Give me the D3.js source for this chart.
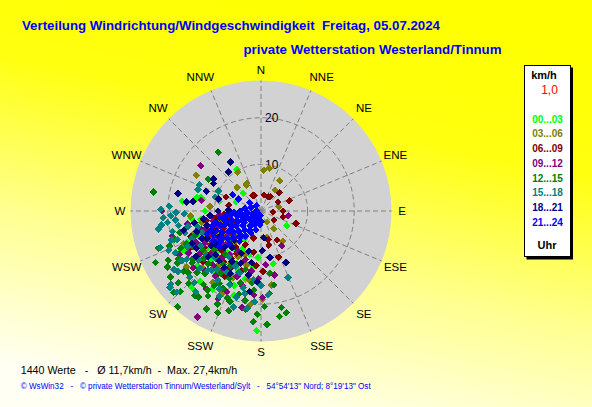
<!DOCTYPE html>
<html>
<head>
<meta charset="utf-8">
<script src="https://cdn.jsdelivr.net/npm/d3@7"></script>
<style>
  body { margin: 0; background: #fff; }
  svg { display: block; font-family: "Liberation Sans", Arial, sans-serif; }
</style>
</head>
<body>
<svg id="chart" width="592" height="407"></svg>
<script>
// wind direction (deg) / speed (km/h), one list per 3-hour slot
const h00_03 = [[330,10.3],[277,17],[281,12.9],[283,13.2],[290,5.7],[315,5.4],[282,14],[283,9.2],[222,22.2],[188,12.1],
  [242,18.4],[247,17.2],[221,20],[167,11.6],[182,25.7],[262,13],[255,9],[240,11],[230,8],[215,10],[205,12.5],[225,15],
  [238,6],[250,12],[210,7],[200,17],[270,12],[195,9.5],[120,6.4],[235,14],[228,11.5],[244,8.5],[218,16.5],
  [236,9.5],[248,14.5],[227,13],[214,15],[252,10.5],[206,9],[233,16.5],[243,19.5],[219,11.5],[258,12.5],[229,18],
  [201,13.5],[264,15],[240,7.5],[223,9.8],[193,15],[208,16],[198,19],[184,10],[212,19.8]];
const h03_06 = [[4,8.8],[11,9.3],[32,7.6],[34,5.4],[330,6.4],[314,7.1],[329,9.7],[299,15.9],[77,3.9],[144,4.7],
  [144,8],[167,5.7],[315,7.2],[333,6.7],[151,2.7],[266,15.2],[179,19],[250,11],[240,9],[230,12],[220,9],[210,13],
  [260,10],[235,15],[200,10],[245,13.5],[275,11],[190,15],[226,17.5],[212,6.5],
  [243,10.5],[231,9.5],[218,14.5],[252,15],[237,12.5],[224,13.5],[207,11],[259,13],[247,18],[214,18.5],[233,20],
  [228,7],[256,9],[203,15.5],[195,12],[205,19.5],[186,20],[215,11.5],[172,16]];
const h06_09 = [[336,3.7],[33,3.6],[62,4.1],[70,6.4],[90,4.7],[125,3.4],[105,4.9],[11,3.5],[95,2.6],[167,7.5],
  [185,11.8],[151,7.1],[159,10.6],[292,8.1],[27,3.4],[333,3.8],[166,6.4],[255,7],[245,9],[235,10],[225,12],[215,9.5],
  [205,8],[265,8],[240,12.5],[230,14],[220,7],[250,16],[260,12],[280,7],[195,6],[45,5.5],[110,8],[238,7.5],[212,12],
  [248,11],[237,14.5],[226,9],[216,13.5],[253,13.5],[232,12],[243,17],[221,15.5],[208,14],[261,10],[229,16.5],
  [210,10.5],[247,6],[234,8],[198,13.5],[203,17],[190,9],[209,16],[178,13]];
const h09_12 = [[307,16.2],[270,21.2],[254,19.8],[242,19.9],[211,26.5],[149,8.7],[185,18],[179,18.6],[191,21.1],
  [168,14],[175,11.6],[100,5.9],[260,16],[250,10],[240,14],[230,11],[220,13],[210,10],[225,8],[245,7],[235,16],
  [215,17],[200,15],[265,9],[280,13],[255,14],[198,11],[230,19],[247,12],[222,15.5],
  [238,11],[229,14],[252,12.5],[216,11.5],[244,15.5],[233,9],[223,17.5],[258,10.5],[207,13],[240,18],[213,15],
  [226,10.5],[249,8.5],[236,13],[194,16.5],[203,18.8],[189,13],[206,21],[182,14.5],[215,20.5]];
const h12_15 = [[244,25.2],[239,23.4],[227,25.6],[221,27.2],[216,22.8],[209,24.1],[203,23.7],[199,20.5],[189,21.4],
  [184,23.8],[177,24.4],[168,21.2],[166,22.5],[170,16.1],[174,17.8],[182,22.2],[230,20.5],[229,23.5],[238,21.1],
  [233,18.5],[280,23.4],[324,15.6],[301,13.2],[250,23.4],[212,19],[205,22],[195,18.5],[225,22],[170,23],
  [215,14],[225,16],[235,18],[205,16],[245,19],[220,12],[230,13],[240,12],[250,15],[210,18],[200,14],[255,18],
  [232,21],[218,20],[195,13],[185,17],[222,18],[242,16.5],[212,21.5],
  [236,15],[246,17.5],[226,19],[213,16],[240,20.5],[223,14],[249,21],[206,18.5],[230,16],[218,23],[234,24],
  [242,22.5],[201,20],[252,19.5],[214,20.5],[225,24.5],
  [196,16],[204,12.5],[190,19.5],[209,13.5],[187,15.5],[198,22.5],[178,20.5],[172,13.5]];
const h15_18 = [[273,19.7],[269,18.2],[266,21],[263,20.2],[252,20.2],[251,19],[244,17.6],[238,20],[231,24.9],
  [226,25.1],[289,14.3],[293,14.4],[295,10.1],[287,10.3],[267,19.4],[264,18.5],[262,21.5],[260,22.3],[257,19.5],
  [230,25.5],[247,21.5],[227,20.9],[219,22.3],[206,20.4],[196,21.4],[193,16.9],[203,17.2],[186,14.8],[175,18],
  [158,15.4],[188,21],[217,15.7],[222,17.1],[235,12],[225,14],[215,12],[245,11],[228,9],[240,15],[210,15],
  [250,13.5],[258,16],[232,17],[220,10],[236,22.5],[254,17],
  [242,13],[231,15],[248,16],[220,16.5],[256,14],[237,19],[227,18],[212,17.5],[244,20.5],[234,22],[260,18],
  [250,23],[223,21],[208,19],[268,16.5],[271,21.5],[199,14],[191,18],[205,13],[184,19.5],[210,12.5],[196,19.2],[180,16]];
const h18_21 = [[328,12.4],[320,10.9],[304,12.3],[300,11.8],[282,18.2],[290,12.5],[277,16.1],[278,14.7],[256,17.1],
  [245,16.3],[169,10.2],[154,12.3],[174,5.8],[191,14],[183,15.2],[190,11.3],[270,9.2],[215,8],[225,11],[235,13],
  [245,14],[255,12],[265,11],[220,14],[240,16],[230,5],[250,8],[205,10],[210,12.5],[260,14.5],[272,7],[286,9.5],
  [233,12],[243,13],[226,13.5],[252,14.5],[218,10],[238,10.5],[248,11.5],[229,15],[257,10],[213,14.5],[235,17],
  [262,12.5],[222,8.5],[197,9],[206,15],[188,17.5],[201,12],[178,8.5]];
const h21_24 = [[190,1],[230,1.2],[270,1],[320,1.5],[210,2],[250,2],[180,2.2],[290,2.3],[185,3],[205,3.2],[225,3],
  [245,3.3],[265,3.1],[280,3.5],[195,4.2],[215,4],[235,4.3],[255,4.1],[270,4.5],[205,5.2],[220,5.4],[232,5],
  [245,5.5],[258,5.2],[268,5.8],[212,6.3],[228,6.5],[240,6.2],[252,6.6],[263,6.4],[220,7.2],[232,7.5],[243,7.1],
  [254,7.6],[262,7.4],[226,8.4],[238,8.2],[249,8.6],[258,8.3],[230,9.3],[241,9.5],[251,9.2],[236,10.3],[246,10.5],
  [256,9.9],[242,11.4],[233,10.8],[249,11.6],[300,7],[298,5.5],[306,3],
  [215,8],[224,9.8],[247,12.5],[238,12],[253,10.8],[229,11.8],[261,9],[218,6.8],[210,4.8],[244,4.5],[260,3],
  [236,2.5],[222,2.4],[200,2.5],[250,1.2]];

const slots = [h00_03, h03_06, h06_09, h09_12, h12_15, h15_18, h18_21, h21_24];
const slotLabels = ["00...03", "03...06", "06...09", "09...12", "12...15", "15...18", "18...21", "21...24"];
const slotColors = ["#00ff00", "#808000", "#800000", "#800080", "#008000", "#008080", "#000080", "#0000ff"];
const dirLabels = ["N", "NNE", "NE", "ENE", "E", "ESE", "SE", "SSE", "S", "SSW", "SW", "WSW", "W", "WNW", "NW", "NNW"];
const ringTicks = [10, 20];
const speedMax = 28;

const titleText = "Verteilung Windrichtung/Windgeschwindigkeit  Freitag, 05.07.2024";
const subTitleText = "private Wetterstation Westerland/Tinnum";
const statsText = "1440 Werte   -   \u00d8 11,7km/h  -  Max. 27,4km/h";
const creditText = "\u00a9 WsWin32   -   \u00a9 private Wetterstation Tinnum/Westerland/Sylt   -   54\u00b054'13\" Nord; 8\u00b019'13\" Ost";

const svg = d3.select("#chart");
const cx = 261, cy = 211, radius = 130.5;

const r = d3.scaleLinear().domain([0, speedMax]).range([0, radius]);
const ang = d3.scaleLinear().domain([0, 360]).range([0, 2 * Math.PI]);
const px = (d, s) => cx + r(s) * Math.sin(ang(d));
const py = (d, s) => cy - r(s) * Math.cos(ang(d));

// background
const defs = svg.append("defs");
const grad = defs.append("linearGradient").attr("id", "bg")
  .attr("x1", "65%").attr("y1", "0%").attr("x2", "35%").attr("y2", "100%");
grad.append("stop").attr("offset", "0%").attr("stop-color", "#ffff00");
grad.append("stop").attr("offset", "30%").attr("stop-color", "#ffff10");
grad.append("stop").attr("offset", "65%").attr("stop-color", "#ffff90");
grad.append("stop").attr("offset", "100%").attr("stop-color", "#fffff4");
svg.append("rect").attr("width", 592).attr("height", 407).attr("fill", "url(#bg)");

// titles
svg.append("text").attr("x", 22).attr("y", 29.5)
  .attr("font-size", 13.5).attr("font-weight", "bold").attr("fill", "#0000ff")
  .attr("textLength", 418).attr("lengthAdjust", "spacingAndGlyphs")
  .style("white-space", "pre").text(titleText);
svg.append("text").attr("x", 243.5).attr("y", 53.5)
  .attr("font-size", 13.5).attr("font-weight", "bold").attr("fill", "#0000ff")
  .attr("textLength", 258).attr("lengthAdjust", "spacingAndGlyphs")
  .text(subTitleText);

// polar disc
svg.append("circle").attr("cx", cx).attr("cy", cy).attr("r", radius).attr("fill", "#d2d2d2");

const grid = svg.append("g").attr("stroke", "#808080").attr("stroke-dasharray", "5,3").attr("fill", "none");
grid.selectAll("circle").data(ringTicks).join("circle")
  .attr("cx", cx).attr("cy", cy).attr("r", (d) => r(d));
grid.selectAll("line").data(dirLabels).join("line")
  .attr("x1", cx).attr("y1", cy)
  .attr("x2", (d, i) => px(i * 22.5, speedMax))
  .attr("y2", (d, i) => py(i * 22.5, speedMax));

svg.selectAll(".ring-label").data(ringTicks).join("text")
  .attr("class", "ring-label")
  .attr("x", cx + 4).attr("y", (d) => cy - r(d))
  .attr("dy", "0.36em").attr("font-size", 12).attr("fill", "#000")
  .text((d) => d);

// direction labels
svg.selectAll(".dir-label").data(dirLabels).join("text")
  .attr("class", "dir-label")
  .attr("x", (d, i) => {
    const a = i * 22.5;
    const cardinal = a % 90 === 0;
    const rr = cardinal ? 141 : 145.5;
    const s = Math.sin(ang(a));
    const nudge = !cardinal && Math.abs(Math.cos(ang(a))) > 0.9 ? 5 * Math.sign(s) : 0;
    return cx + rr * s + nudge;
  })
  .attr("y", (d, i) => {
    const a = i * 22.5;
    const rr = a % 90 === 0 ? 141 : 145.5;
    return cy - rr * Math.cos(ang(a));
  })
  .attr("text-anchor", "middle").attr("dy", "0.36em")
  .attr("font-size", 11.5).attr("fill", "#000")
  .text((d) => d);

// points
const diamond = "M0,-3.8L3.8,0L0,3.8L-3.8,0Z";
slots.forEach((pts, k) => {
  svg.append("g").attr("fill", slotColors[k]).attr("shape-rendering", "crispEdges")
    .selectAll("path").data(pts).join("path")
    .attr("d", diamond)
    .attr("transform", (d) => `translate(${px(d[0], d[1])},${py(d[0], d[1])})`);
});

// legend
const lg = svg.append("g");
lg.append("rect").attr("x", 526.5).attr("y", 67.5).attr("width", 46.5).attr("height", 192).attr("fill", "#000");
lg.append("rect").attr("x", 524.5).attr("y", 65.5).attr("width", 46).attr("height", 191)
  .attr("fill", "#fff").attr("stroke", "#000");
lg.append("text").attr("x", 544).attr("y", 79).attr("text-anchor", "middle")
  .attr("font-size", 11).attr("font-weight", "bold").text("km/h");
lg.append("text").attr("x", 549.5).attr("y", 94).attr("text-anchor", "middle")
  .attr("font-size", 12).attr("fill", "#ff0000").text("1,0");
lg.selectAll(".slot").data(slotLabels).join("text")
  .attr("class", "slot")
  .attr("x", 547.5).attr("y", (d, i) => 122.5 + i * 14.75)
  .attr("text-anchor", "middle").attr("font-size", 10).attr("font-weight", "bold")
  .attr("fill", (d, i) => slotColors[i])
  .text((d) => d);
lg.append("text").attr("x", 547).attr("y", 249).attr("text-anchor", "middle")
  .attr("font-size", 11).attr("font-weight", "bold").text("Uhr");

// footer
svg.append("text").attr("x", 20.7).attr("y", 373.7)
  .attr("font-size", 11.5).attr("fill", "#000")
  .attr("textLength", 216.5).attr("lengthAdjust", "spacingAndGlyphs")
  .style("white-space", "pre").text(statsText);
svg.append("text").attr("x", 20.7).attr("y", 389)
  .attr("font-size", 8.5).attr("fill", "#0000ff")
  .attr("textLength", 350).attr("lengthAdjust", "spacingAndGlyphs")
  .style("white-space", "pre").text(creditText);
</script>
</body>
</html>
